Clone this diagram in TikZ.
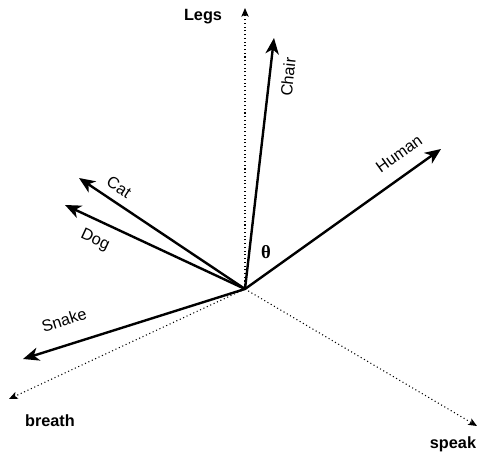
\documentclass[tikz,border=0pt]{standalone}
\usepackage{fontspec}
\setmainfont{Liberation Sans}
\usetikzlibrary{arrows.meta}
\begin{document}
\begin{tikzpicture}[x=0.75pt,y=-0.75pt,
  vec/.style={line width=1.8pt,-{Stealth[length=12pt,width=10pt,inset=3.5pt]}},
  axis/.style={line width=0.8pt,dotted,-{Stealth[length=6.5pt,width=5.5pt,inset=1.5pt]}},
  lbl/.style={font=\fontsize{12.2}{14}\selectfont,inner sep=0pt},
  axlbl/.style={font=\fontsize{12.2}{14}\selectfont\bfseries,inner sep=0pt}]
\useasboundingbox (0,0) rectangle (478,453);
\coordinate (O) at (245,289);
\coordinate (legs) at (245,8);
\coordinate (breath) at (9,399);
\coordinate (speak) at (477,426);
\coordinate (chair) at (274,38);
\coordinate (human) at (441,149);
\coordinate (cat) at (79,178);
\coordinate (dog) at (65,205);
\coordinate (snake) at (23,359);
\draw[axis] (O) -- (legs);
\draw[axis] (O) -- (breath);
\draw[axis] (O) -- (speak);
\draw[vec] (O) -- (chair);
\draw[vec] (O) -- (human);
\draw[vec] (O) -- (cat);
\draw[vec] (O) -- (dog);
\draw[vec] (O) -- (snake);
\node[axlbl] (tlegs) at (203,17) {Legs};
\node[axlbl] (tbreath) at (50,421) {breath};
\node[axlbl] (tspeak) at (453,444) {speak};
\node[lbl,rotate=84] (tchair) at (288,77) {Chair};
\node[lbl,rotate=35.5] (thuman) at (399,154) {Human};
\node[lbl,rotate=-33] (tcat) at (119,187) {Cat};
\node[lbl,rotate=-25] (tdog) at (95,240) {Dog};
\node[lbl,rotate=17.5] (tsnake) at (64,320) {Snake};
\node[font=\fontspec{Liberation Serif}\fontsize{14}{16}\selectfont\bfseries,inner sep=0pt] (theta) at (266,252) {θ};
\end{tikzpicture}
\end{document}
